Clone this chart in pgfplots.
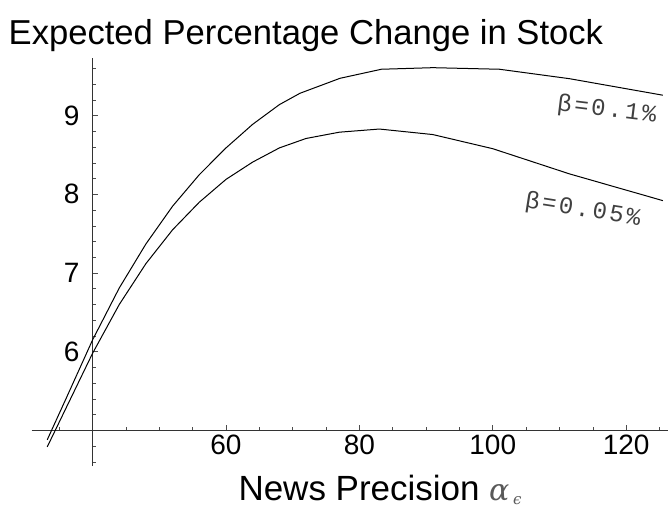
\documentclass[border=0pt]{standalone}
\usepackage{fontspec}
\setmainfont{Liberation Sans}
\newfontfamily\monof[LetterSpace=11]{Liberation Mono}
\newfontfamily\grk{DejaVu Serif}
\usepackage{pgfplots}
\pgfplotsset{compat=1.18}
\usepackage{pgfplotstable}

\pgfplotstableread{
x y
33.2 4.88
36 5.40
40 6.15
44 6.81
48 7.37
52 7.85
56 8.25
60 8.59
64 8.89
68 9.14
71.1 9.285
77.1 9.475
83.3 9.59
91 9.61
101 9.59
111.5 9.47
125.5 9.26
}\topdata

\pgfplotstableread{
x y
33.2 4.79
36 5.28
40 5.98
44 6.60
48 7.12
52 7.55
56 7.90
60 8.19
64 8.41
68 8.59
72 8.71
77 8.79
83 8.83
91 8.76
100 8.58
111.5 8.26
125.5 7.92
}\lowdata

\begin{document}
\begin{tikzpicture}[x=1pt,y=1pt]
\useasboundingbox (0,0) rectangle (668,508);
\begin{axis}[
  at={(31.7pt,42pt)}, anchor=south west,
  scale only axis, width=636.3pt, height=408pt,
  xmin=-9.13, xmax=86.27, ymin=-0.453, ymax=4.733,
  axis lines=middle,
  axis line style={-, black!80, line width=0.8pt},
  xtick={20,40,60,80}, xticklabels={60,80,100,120},
  minor xtick={-5,5,10,15,25,30,35,45,50,55,65,70,75,85},
  ytick={1,2,3,4}, yticklabels={6,7,8,9},
  minor ytick={-0.4,-0.2,0.2,0.4,0.6,0.8,1.2,1.4,1.6,1.8,2.2,2.4,2.6,2.8,3.2,3.4,3.6,3.8,4.2,4.4,4.6},
  tick align=inside,
  major tick length=5pt, minor tick length=3pt,
  every tick/.style={black!70, line width=0.6pt},
  /pgf/number format/assume math mode=true,
  tick label style={font=\fontsize{28}{28}\selectfont},
  xticklabel style={inner sep=1pt, yshift=-3pt},
  yticklabel style={inner sep=1pt, xshift=-12pt},
  clip=true,
]
\addplot[black, line width=1pt] table[x expr=\thisrow{x}-40, y expr=\thisrow{y}-5] {\topdata};
\addplot[black, line width=1pt] table[x expr=\thisrow{x}-40, y expr=\thisrow{y}-5] {\lowdata};
\node[rotate=-7, text=black!75, font=\monof\fontsize{24}{24}\selectfont] at (axis cs:77.1,4.07) {β=0.1\%};
\node[rotate=-9, text=black!75, font=\monof\fontsize{24}{24}\selectfont] at (axis cs:73.5,2.80) {β=0.05\%};
\end{axis}
\node[anchor=base west, inner sep=0pt, font=\fontsize{34.6}{40}\selectfont] at (8.5,463.3) {Expected Percentage Change in Stock};
\node[anchor=base west, inner sep=0pt, font=\fontsize{35}{40}\selectfont] at (238.3,8) {News Precision};
\node[anchor=base west, inner sep=0pt, text=black!65, font=\grk\itshape\fontsize{30}{30}\selectfont] at (489,8) {α};
\node[anchor=base west, inner sep=0pt, text=black!65, font=\grk\itshape\fontsize{15}{15}\selectfont] at (513,4) {ϵ};
\end{tikzpicture}
\end{document}
